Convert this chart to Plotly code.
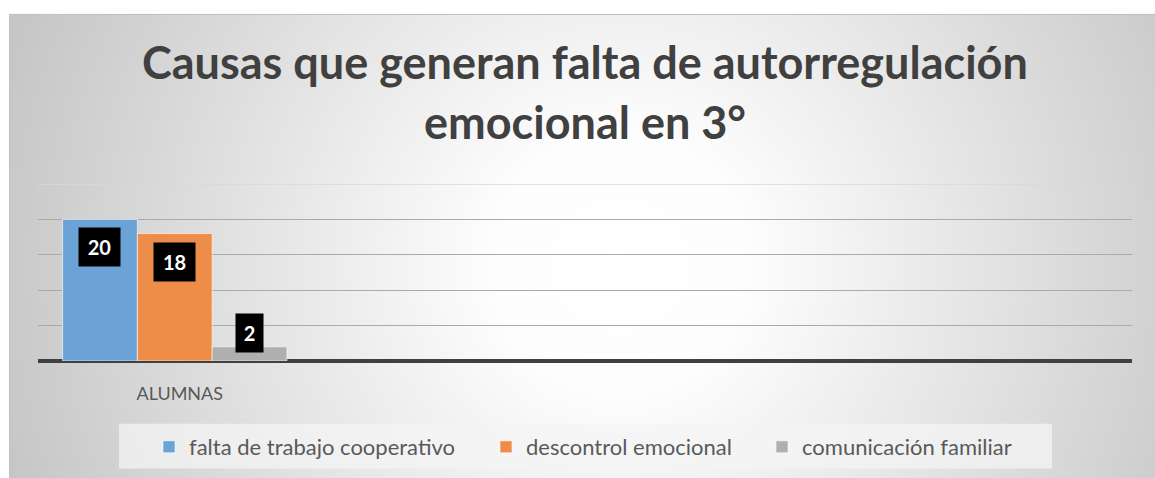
import base64
import plotly.graph_objects as go

# ---- data ----
categories = ["ALUMNAS"]
series_names = ["falta de trabajo cooperativo", "descontrol emocional", "comunicación familiar"]
series_values = [[20], [18], [2]]
series_colors = ["#6BA3D7", "#EE8D4A", "#AFAFAF"]
title_lines = ["Causas que generan falta de autorregulación", "emocional en 3°"]

# ---- layout constants (pixels) ----
W, H = 1155, 478
PL, PR = 38, 1132          # plot area x
PT, PB = 184, 362          # plot area y
CA_L, CA_T = 9, 13         # chart area top-left corner
IMG_L, IMG_T = -5, -5      # background image extent (past page edges)
IMG_R, IMG_B = 1165, 495
YMAX = 25
N_SLOTS = 4
BARGAP = 0.18
FONT = "Lato"

def px_to_paper_x(px):
    return (px - PL) / (PR - PL)

def px_to_paper_y(py):
    return (PB - py) / (PB - PT)

# whole-page background svg: white margin + radial gradient chart area
iw, ih = IMG_R - IMG_L, IMG_B - IMG_T
ox, oy = -IMG_L, -IMG_T
gcx, gcy, gr = 620 + ox, 265 + oy, 645
svg = f'''<svg xmlns="http://www.w3.org/2000/svg" width="{iw}" height="{ih}" viewBox="0 0 {iw} {ih}" preserveAspectRatio="none">
<defs><radialGradient id="g" gradientUnits="userSpaceOnUse" cx="{gcx}" cy="{gcy}" r="{gr}">
<stop offset="0" stop-color="#ffffff"/><stop offset="0.2" stop-color="#fdfdfd"/>
<stop offset="1" stop-color="#c6c6c6"/></radialGradient></defs>
<rect x="0" y="0" width="{iw}" height="{ih}" fill="#ffffff"/>
<rect x="{CA_L + ox}" y="{CA_T + oy}" width="{iw}" height="{ih}" fill="url(#g)"/>
<line x1="{CA_L + ox}" y1="{CA_T + oy + 0.5}" x2="{iw}" y2="{CA_T + oy + 0.5}" stroke="#c0c0c0" stroke-width="1"/>
<line x1="{CA_L + ox + 0.5}" y1="{CA_T + oy}" x2="{CA_L + ox + 0.5}" y2="{ih}" stroke="#c0c0c0" stroke-width="1"/>
</svg>'''
svg_uri = "data:image/svg+xml;base64," + base64.b64encode(svg.encode()).decode()

fig = go.Figure()
legend_ids = ["legend", "legend2", "legend3"]
for i, (name, vals, col) in enumerate(zip(series_names, series_values, series_colors)):
    fig.add_trace(go.Bar(
        x=list(range(len(vals))), y=vals, name=name,
        marker=dict(color=col, line=dict(color="rgba(255,255,255,0.6)", width=1)),
        legend=legend_ids[i],
    ))

# data labels (black boxes)
n = len(series_values)
group_w = 1 - BARGAP
bar_w = group_w / n
ppu = (PB - PT) / YMAX
BOX_H = 38
annotations = []
for i, vals in enumerate(series_values):
    for j, v in enumerate(vals):
        xc = j - group_w / 2 + bar_w * (i + 0.5)
        txt = str(v)
        if v * ppu - 8 >= BOX_H + 8:
            y, ya, ys = v, "top", -8
        else:
            y, ya, ys = 0, "bottom", 8
        annotations.append(dict(
            x=xc, y=y, xref="x", yref="y", text=f"<b>{txt}</b>", showarrow=False,
            yanchor=ya, yshift=ys, bgcolor="#000000", borderpad=0,
            width=14 * len(txt) + 13, height=BOX_H,
            font=dict(family=FONT, size=20, color="#ffffff"),
        ))

# title lines (baselines at ~80 and ~141 px)
for k, line in enumerate(title_lines):
    annotations.append(dict(
        x=0.5, xref="paper", y=px_to_paper_y(80 + 61 * k), yref="paper",
        yanchor="bottom", yshift=-10,
        text=f"<b>{line}</b>", showarrow=False,
        font=dict(family=FONT, size=45, color="#404040"),
    ))

shapes = [
    # legend background
    dict(type="rect", xref="paper", yref="paper",
         x0=px_to_paper_x(119), x1=px_to_paper_x(1052),
         y0=px_to_paper_y(470), y1=px_to_paper_y(425),
         fillcolor="rgba(244,244,244,0.75)", line=dict(width=0), layer="below"),
    # top gridline (at axis maximum)
    dict(type="line", xref="paper", yref="y", x0=0, x1=1, y0=YMAX, y1=YMAX,
         line=dict(color="#d8d8d8", width=1.3), layer="below"),
]

legend_x = [167, 504, 780]
legends = {}
for i, lid in enumerate(legend_ids):
    legends[lid] = dict(
        x=px_to_paper_x(legend_x[i] - 18), xanchor="left",
        y=px_to_paper_y(447), yanchor="middle",
        orientation="h", bgcolor="rgba(0,0,0,0)",
        font=dict(family=FONT, size=22, color="#595959"),
        itemwidth=30,
    )

fig.update_layout(
    width=W, height=H,
    margin=dict(l=PL, r=W - PR, t=PT, b=H - PB, pad=0),
    paper_bgcolor="#cbcbcb", plot_bgcolor="rgba(0,0,0,0)",
    barmode="group", bargap=BARGAP, bargroupgap=0,
    showlegend=True,
    xaxis=dict(range=[-0.5, N_SLOTS - 0.5], tickvals=list(range(len(categories))),
               ticktext=categories, showgrid=False, zeroline=False, showline=False,
               ticks="", tickfont=dict(family=FONT, size=18, color="#595959"),
               ticklabelstandoff=20, ticklabelshift=5, fixedrange=True),
    yaxis=dict(range=[0, YMAX], dtick=5, showticklabels=False, ticks="",
               showgrid=True, gridcolor="#aaaaaa", gridwidth=1.3,
               zeroline=True, zerolinecolor="#404040", zerolinewidth=3.5,
               showline=False, fixedrange=True),
    images=[dict(source=svg_uri, xref="paper", yref="paper",
                 x=px_to_paper_x(IMG_L), y=px_to_paper_y(IMG_T),
                 sizex=iw / (PR - PL), sizey=ih / (PB - PT),
                 xanchor="left", yanchor="top", sizing="stretch", layer="below")],
    annotations=annotations,
    shapes=shapes,
    **legends,
)

fig.write_html("out.html", config={"displayModeBar": False},
               post_script=("document.body.style.margin='0px';"
                            "document.body.style.overflow='hidden';"
                            "document.documentElement.style.overflow='hidden';"
                            "document.body.style.background='#cfcfcf';"))
